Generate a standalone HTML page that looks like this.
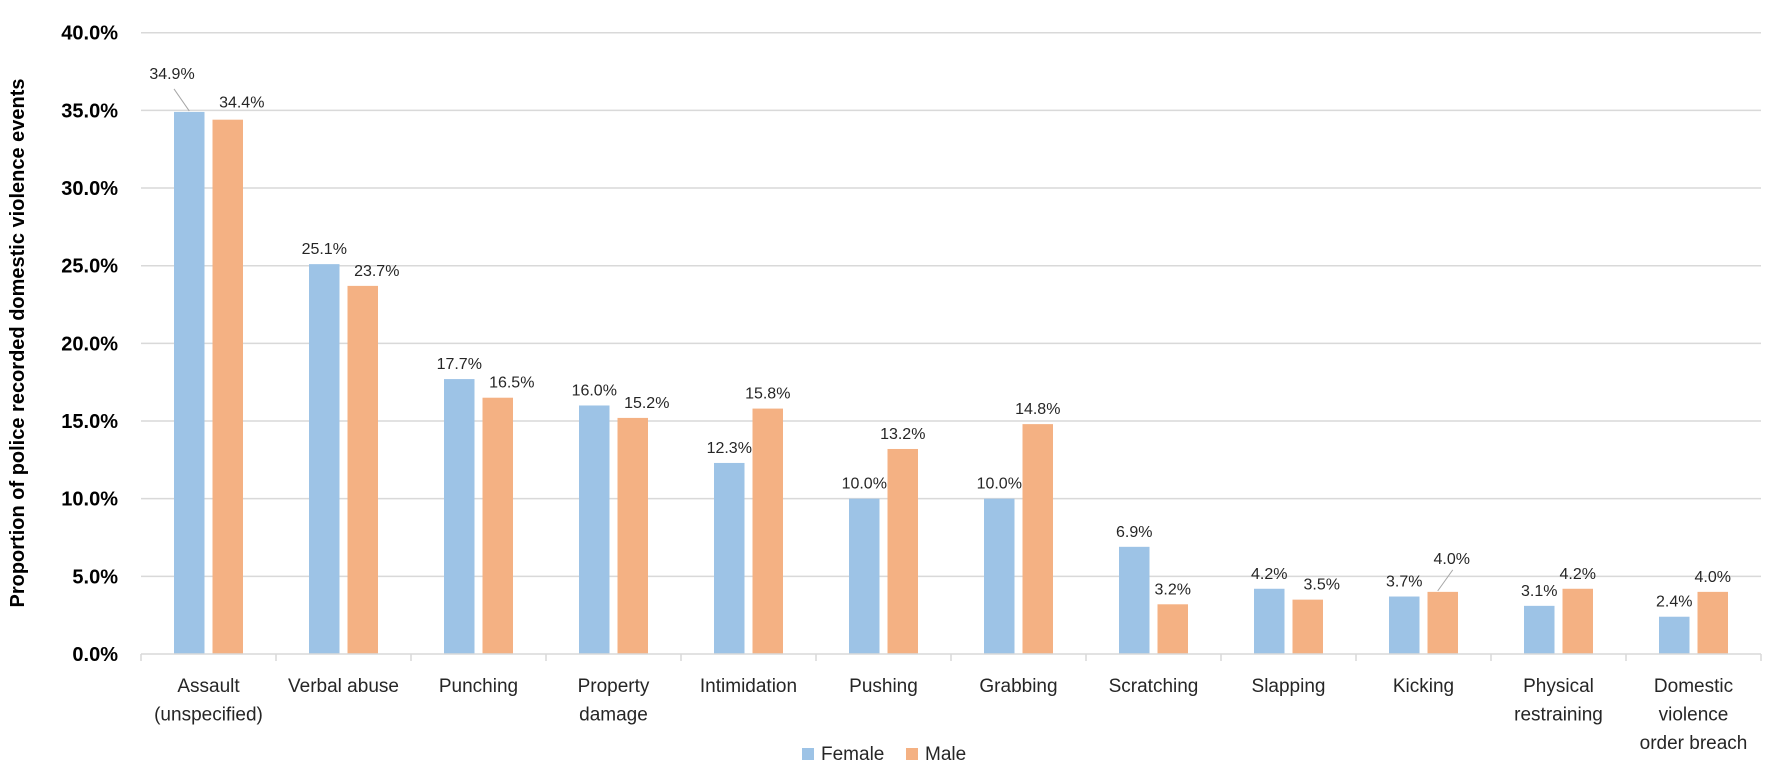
<!DOCTYPE html>
<html><head><meta charset="utf-8"><style>
html,body{margin:0;padding:0;background:#fff;}
svg{display:block;font-family:"Liberation Sans",sans-serif;}
</style></head><body>
<svg id="chart" width="1772" height="768" xmlns="http://www.w3.org/2000/svg">
<g id="grid"></g>
<g id="bars"></g>
<g id="labels"></g>
<g id="axes"></g>
<text transform="translate(24,343) rotate(-90)" text-anchor="middle" font-size="20" font-weight="bold" fill="#000">Proportion of police recorded domestic violence events</text>
<g>
<rect x="802" y="748" width="12" height="12" fill="#9dc3e6"/>
<text x="821" y="760" font-size="19" fill="#262626">Female</text>
<rect x="906" y="748" width="12" height="12" fill="#f4b183"/>
<text x="925" y="760" font-size="19" fill="#262626">Male</text>
</g>
</svg>
<script>
const categories=[["Assault","(unspecified)"],["Verbal abuse"],["Punching"],["Property","damage"],["Intimidation"],["Pushing"],["Grabbing"],["Scratching"],["Slapping"],["Kicking"],["Physical","restraining"],["Domestic","violence","order breach"]];
const female=[34.9,25.1,17.7,16.0,12.3,10.0,10.0,6.9,4.2,3.7,3.1,2.4];
const male=[34.4,23.7,16.5,15.2,15.8,13.2,14.8,3.2,3.5,4.0,4.2,4.0];
const yTicks=[0,5,10,15,20,25,30,35,40];

const NS="http://www.w3.org/2000/svg";
const x0=141,x1=1761,y0=654,yTop=32.7,yMax=40;
const bandW=(x1-x0)/categories.length;
function y(v){return y0-(v/yMax)*(y0-yTop);}
function cx(i){return x0+bandW*(i+0.5);}
function mk(tag,attrs,parent,txt){const e=document.createElementNS(NS,tag);for(const k in attrs)e.setAttribute(k,attrs[k]);if(txt!==undefined)e.textContent=txt;parent.appendChild(e);return e;}
const grid=document.getElementById('grid'),bars=document.getElementById('bars'),labels=document.getElementById('labels'),axes=document.getElementById('axes');
yTicks.forEach(t=>{
  if(t>0){const l=mk('line',{x1:x0,x2:x1,y1:y(t),y2:y(t),stroke:'#d9d9d9','stroke-width':1.5},grid);
  
  }
  const tx=mk('text',{x:118,y:y(t)+7,'text-anchor':'end','font-size':20,'font-weight':'bold',fill:'#000'},axes,t.toFixed(1)+'%');
  
  
});
const ax=mk('line',{x1:x0,x2:x1,y1:y0,y2:y0,stroke:'#d9d9d9','stroke-width':1.5},axes);


for(let i=0;i<=categories.length;i++){
  const xx=x0+bandW*i;
  const tk=mk('line',{x1:xx,x2:xx,y1:y0,y2:y0+7,stroke:'#d9d9d9','stroke-width':1.5},axes);
  
  
}
const bw=30.5;
categories.forEach((c,i)=>{
  const c0=cx(i);
  const fx=c0-34.5,mx=c0+4;
  const fb=mk('rect',{x:fx,y:y(female[i]),width:bw,height:y0-y(female[i]),fill:'#9dc3e6'},bars);
  
  
  const mb=mk('rect',{x:mx,y:y(male[i]),width:bw,height:y0-y(male[i]),fill:'#f4b183'},bars);
  
  
  let flx=fx+bw/2,fly=y(female[i])-10,mlx=mx+bw/2,mly=y(male[i])-10;
  if(i===0){flx=fx-2;fly=y(female[i])-33;
    const ll=mk('line',{x1:flx+2,y1:fly+10,x2:fx+bw/2,y2:y(female[i])-1,stroke:'#a6a6a6','stroke-width':1},labels);
    
    
    mlx=mx+bw/2+14;mly=y(male[i])-12;}
  if(i===9){mlx=mx+bw/2+9;mly=y(male[i])-28;
    const ll=mk('line',{x1:mlx+1,y1:mly+6,x2:mx+bw/2-5,y2:y(male[i])-1,stroke:'#a6a6a6','stroke-width':1},labels);
    
    }
  if(i===0||i===1||i===2||i===3||i===8){mlx=mx+bw/2+14;}
  const fl=mk('text',{x:flx,y:fly,'text-anchor':'middle','font-size':16,fill:'#262626'},labels,female[i].toFixed(1)+'%');
  
  
  const ml=mk('text',{x:mlx,y:mly,'text-anchor':'middle','font-size':16,fill:'#262626'},labels,male[i].toFixed(1)+'%');
  
  
  c.forEach((ln,k)=>{
    const t=mk('text',{x:c0,y:692+k*28.5,'text-anchor':'middle','font-size':19,fill:'#262626'},axes,ln);
    
    
  });
});
</script>
</body></html>
